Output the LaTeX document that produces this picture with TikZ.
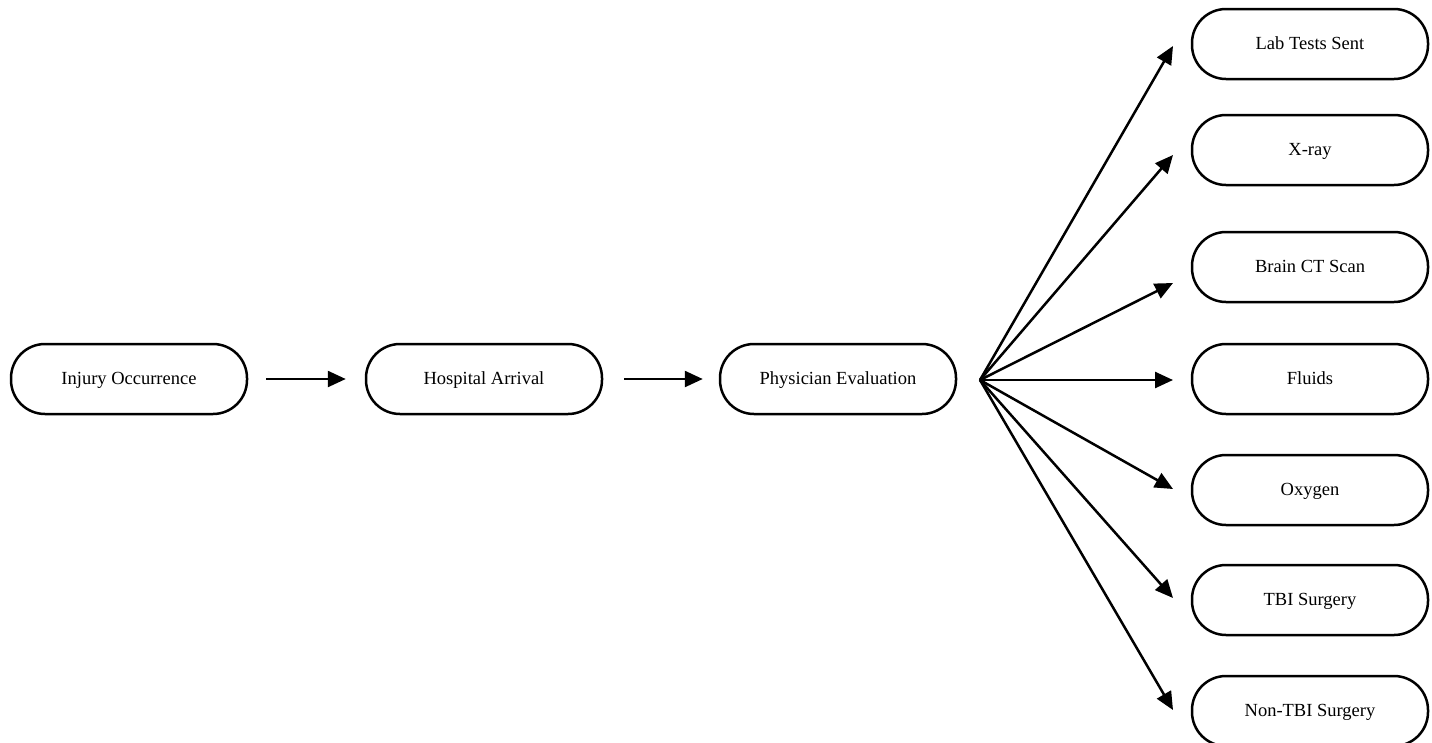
\documentclass[tikz,border=0pt]{standalone}
\usepackage{fontspec}
\setmainfont{Liberation Serif}
\usetikzlibrary{arrows.meta}
\begin{document}
\begin{tikzpicture}[x=1pt,y=-1pt,
  stage/.style={draw,line width=2.5pt,rounded corners=34pt,
    minimum width=236pt,minimum height=70pt,text height=15pt,text depth=4pt,
    font=\fontsize{18.5}{22}\selectfont},
  flow/.style={line width=2.5pt,-{Triangle[length=18pt,width=16pt]}}]
  \useasboundingbox (0,0) rectangle (1432,742);

  \node[stage] (injury)    at (129,379) {Injury Occurrence};
  \node[stage] (arrival)   at (484,379) {Hospital Arrival};
  \node[stage] (physician) at (838,379) {Physician Evaluation};
  \draw[flow,shorten <=18pt,shorten >=19pt] (injury.east) -- (arrival.west);
  \draw[flow,shorten <=21pt,shorten >=16pt] (arrival.east) -- (physician.west);

  \coordinate (fan) at (980,380);
  \foreach \Name/\Text/\Y/\Tip in {lab/Lab Tests Sent/44/46,
    xray/X-ray/150/155, brainct/Brain CT Scan/267/283, fluids/Fluids/379/380,
    oxygen/Oxygen/490/489, tbi/TBI Surgery/600/598,
    nontbi/Non-TBI Surgery/711/710}{
    \node[stage] (\Name) at (1310,\Y) {\Text};
    \coordinate (\Name-tip) at (1173,\Tip);
    \draw[flow] (fan) -- (\Name-tip);
  }
\end{tikzpicture}
\end{document}
